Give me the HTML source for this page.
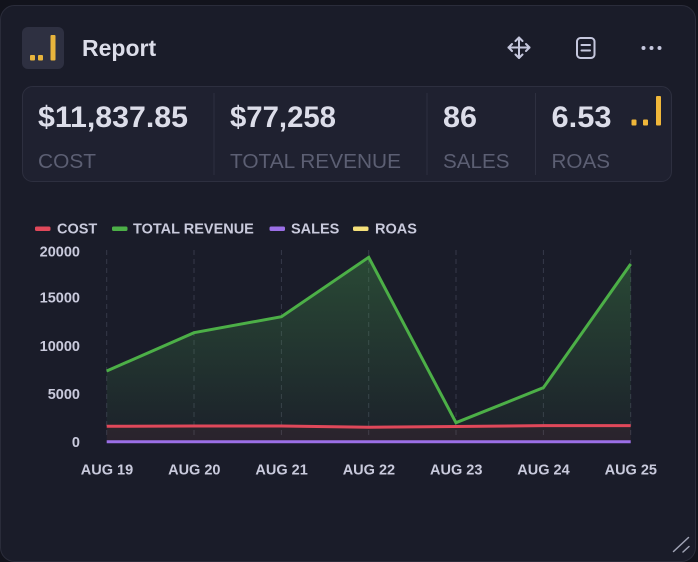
<!DOCTYPE html>
<html><head><meta charset="utf-8"><style>
html,body{margin:0;padding:0;background:#12131c;width:698px;height:562px;overflow:hidden}
svg{display:block}
text{font-family:"Liberation Sans",Arial,sans-serif}
</style></head><body>
<svg width="698" height="562" viewBox="0 0 698 562" xmlns="http://www.w3.org/2000/svg">
<defs>
<linearGradient id="g" x1="0" y1="250" x2="0" y2="442" gradientUnits="userSpaceOnUse">
<stop offset="0" stop-color="#4caf50" stop-opacity="0.32"/>
<stop offset="1" stop-color="#4caf50" stop-opacity="0.03"/>
</linearGradient>
</defs>
<rect x="0.5" y="5.5" width="695" height="556" rx="14" fill="#1a1c29" stroke="#2a2c3a"/>
<!-- header icon -->
<rect x="22" y="27" width="42" height="42" rx="6" fill="#2e3041"/>
<rect x="30" y="55" width="5" height="5.5" rx="1" fill="#e8b43c"/>
<rect x="38" y="55" width="5" height="5.5" rx="1" fill="#e8b43c"/>
<rect x="50.5" y="35" width="5" height="25.5" rx="1" fill="#e8b43c"/>
<text x="82" y="56" font-size="23" font-weight="bold" fill="#dcdde9">Report</text>
<!-- move icon -->
<g stroke="#c5c7dd" stroke-width="2" fill="none" stroke-linecap="round" stroke-linejoin="round">
<path d="M519 37.5V58M508.5 47.5H529.5"/>
<path d="M515.5 41L519 37.5L522.5 41M515.5 54.5L519 58L522.5 54.5M512 44L508.5 47.5L512 51M526 44L529.5 47.5L526 51"/>
<rect x="577" y="38" width="17.5" height="20" rx="3.5"/>
<path d="M581.5 45H590M581.5 50.5H590"/>
</g>
<g fill="#c5c7dd"><circle cx="643.5" cy="48" r="2"/><circle cx="651.5" cy="48" r="2"/><circle cx="659.5" cy="48" r="2"/></g>
<!-- stats box -->
<rect x="22.5" y="86.5" width="649" height="95" rx="10" fill="#1f2130" stroke="#2d2f3f"/>
<g fill="#2e3040"><rect x="213.5" y="93" width="1" height="82"/><rect x="426.5" y="93" width="1" height="82"/><rect x="535" y="93" width="1" height="82"/></g>
<g font-size="29.5" font-weight="bold" fill="#dcdde9">
<text x="38" y="127" textLength="150" lengthAdjust="spacingAndGlyphs">$11,837.85</text>
<text x="230" y="127" textLength="106" lengthAdjust="spacingAndGlyphs">$77,258</text>
<text x="443" y="127" textLength="34" lengthAdjust="spacingAndGlyphs">86</text>
<text x="551.5" y="127" textLength="60" lengthAdjust="spacingAndGlyphs">6.53</text>
</g>
<g font-size="20.5" fill="#5c5f73">
<text x="38" y="168" textLength="58" lengthAdjust="spacingAndGlyphs">COST</text>
<text x="230" y="168" textLength="171" lengthAdjust="spacingAndGlyphs">TOTAL REVENUE</text>
<text x="443" y="168" textLength="66.5" lengthAdjust="spacingAndGlyphs">SALES</text>
<text x="551.5" y="168" textLength="58.5" lengthAdjust="spacingAndGlyphs">ROAS</text>
</g>
<rect x="631.5" y="119.5" width="5" height="6" rx="1" fill="#f0b73a"/>
<rect x="643" y="119.5" width="5" height="6" rx="1" fill="#f0b73a"/>
<rect x="656" y="96" width="5" height="29.5" rx="1" fill="#f0b73a"/>
<!-- legend -->
<rect x="35" y="226.5" width="15.5" height="4.5" rx="1.5" fill="#e0485a"/>
<rect x="112" y="226.5" width="15.5" height="4.5" rx="1.5" fill="#4caf47"/>
<rect x="269.5" y="226.5" width="15.5" height="4.5" rx="1.5" fill="#9b6fe6"/>
<rect x="353" y="226.5" width="15.5" height="4.5" rx="1.5" fill="#f5e07a"/>
<g font-size="14.5" font-weight="bold" fill="#c9cadc">
<text x="57" y="233.5">COST</text>
<text x="133" y="233.5">TOTAL REVENUE</text>
<text x="291" y="233.5">SALES</text>
<text x="375" y="233.5">ROAS</text>
</g>
<!-- y labels -->
<g font-size="14.5" font-weight="bold" fill="#c9cadc" text-anchor="end">
<text x="80" y="256.7">20000</text>
<text x="80" y="302.7">15000</text>
<text x="80" y="351">10000</text>
<text x="80" y="399">5000</text>
<text x="80" y="447">0</text>
</g>
<!-- grid -->
<g stroke="#363949" stroke-width="1" stroke-dasharray="5 4">
<path d="M106.7 250V437M194 250V437M281.4 250V437M368.7 250V437M456 250V437M543.4 250V437M630.7 250V437"/>
</g>
<!-- areas -->
<path d="M106.7 371L194 332.7L281.4 316.7L368.7 257.3L456 422.7L543.4 387.7L630.7 264L630.7 442L106.7 442Z" fill="url(#g)"/>
<path d="M106.7 426.3L194 426L281.4 426L368.7 427.3L456 426.5L543.4 425.6L630.7 425.6L630.7 442L106.7 442Z" fill="#e0485a" fill-opacity="0.07"/>
<!-- lines -->
<polyline points="106.7,371 194,332.7 281.4,316.7 368.7,257.3 456,422.7 543.4,387.7 630.7,264" fill="none" stroke="#4caf47" stroke-width="3" stroke-linejoin="miter"/>
<polyline points="106.7,426.3 194,426 281.4,426 368.7,427.3 456,426.5 543.4,425.6 630.7,425.6" fill="none" stroke="#e0485a" stroke-width="3"/>
<polyline points="106.7,441.7 630.7,441.7" fill="none" stroke="#9b6fe6" stroke-width="3"/>
<!-- x labels -->
<g font-size="14.5" font-weight="bold" fill="#c9cadc" text-anchor="middle">
<text x="107" y="474.3">AUG 19</text>
<text x="194.3" y="474.3">AUG 20</text>
<text x="281.6" y="474.3">AUG 21</text>
<text x="368.9" y="474.3">AUG 22</text>
<text x="456.2" y="474.3">AUG 23</text>
<text x="543.5" y="474.3">AUG 24</text>
<text x="630.8" y="474.3">AUG 25</text>
</g>
<!-- resize handle -->
<g stroke="#a0a3b5" stroke-width="1.5" stroke-linecap="round">
<path d="M673.5 551.5L688.5 537.5M683 552L689 546.5"/>
</g>
</svg>
</body></html>
